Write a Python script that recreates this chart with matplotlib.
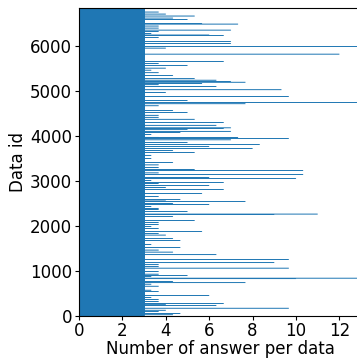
import matplotlib.pyplot as plt
import numpy as np

# number of data items and the usual number of answers each one got
n_data = 6850
base_answers = 3

# data ids that received more than the usual number of answers
extra_ids = [
    6760, 6715, 6671, 6626, 6596, 6500, 6492, 6448, 6403, 6358, 6329, 6284,
    6248, 6240, 6195, 6106, 6061, 5994, 5957, 5823, 5659, 5615, 5570, 5511,
    5466, 5406, 5347, 5273, 5243, 5213, 5198, 5169, 5139, 5102, 5027, 4968,
    4878, 4789, 4745, 4715, 4670, 4566, 4522, 4462, 4417, 4373, 4298, 4239,
    4179, 4165, 4150, 4105, 4075, 4031, 3971, 3965, 3941, 3912, 3852, 3808,
    3763, 3718, 3674, 3629, 3570, 3495, 3406, 3354, 3295, 3250, 3235, 3176,
    3146, 3071, 3057, 3012, 2967, 2937, 2893, 2848, 2804, 2714, 2655, 2581,
    2551, 2536, 2491, 2476, 2432, 2387, 2358, 2313, 2260, 2253, 2209, 2119,
    2075, 2030, 1986, 1941, 1867, 1822, 1792, 1718, 1666, 1577, 1517, 1458,
    1413, 1353, 1249, 1175, 1130, 1086, 1056, 982, 922, 892, 863, 833, 818,
    759, 729, 699, 654, 565, 535, 446, 402, 357, 312, 268, 238, 223, 164,
    119, 89, 45, 15,
]
extra_answers = [
    3.67, 4.0, 5.33, 4.33, 5.0, 5.67, 7.33, 3.67, 3.67, 7.0, 3.67, 3.33,
    6.0, 6.67, 3.67, 7.0, 7.0, 13.0, 4.0, 12.0, 6.67, 3.67, 5.0, 4.0,
    3.33, 3.67, 4.33, 5.33, 6.33, 7.0, 7.67, 5.67, 3.67, 6.33, 9.33, 4.0,
    9.67, 5.0, 13.0, 7.67, 3.67, 4.33, 5.0, 3.67, 3.67, 5.33, 6.67, 6.33,
    7.0, 6.67, 5.0, 7.0, 4.67, 3.33, 3.67, 7.33, 9.67, 7.0, 5.0, 8.33,
    6.0, 8.0, 4.33, 5.33, 3.33, 3.33, 4.33, 3.67, 3.67, 5.33, 10.33, 3.67,
    10.33, 6.0, 10.0, 3.33, 6.67, 3.67, 6.0, 4.0, 6.67, 5.67, 3.67, 4.67,
    4.0, 7.67, 4.33, 6.0, 3.33, 3.67, 3.67, 5.0, 11.0, 9.0, 4.33, 5.33,
    3.67, 3.67, 3.33, 3.67, 5.67, 3.67, 4.0, 4.33, 4.67, 3.33, 4.67, 3.67,
    4.33, 6.33, 9.67, 9.0, 3.67, 3.67, 9.67, 3.67, 3.67, 5.0, 3.33, 13.0, 10.0,
    4.33, 7.67, 3.33, 3.67, 3.33, 3.67, 6.0, 3.33, 3.67, 3.67, 6.67, 4.0, 6.33, 9.67,
    4.0, 3.67, 4.67, 4.33,
]

answers = np.full(n_data, base_answers, dtype=float)
answers[extra_ids] = extra_answers

plt.rcParams["font.size"] = 12
plt.rcParams["xtick.major.size"] = 3
plt.rcParams["ytick.major.size"] = 3
plt.rcParams["xtick.major.pad"] = 1.5
plt.rcParams["ytick.major.pad"] = 2

fig = plt.figure(figsize=(3.57, 3.58), dpi=100)
ax = fig.add_axes([0.2213, 0.1187, 0.79, 0.859])
# thin edges in the bar colour keep each one-row bar visible
ax.barh(np.arange(n_data), answers, height=1.0, color="#1f77b4",
        edgecolor="#1f77b4", linewidth=0.35, snap=False)
ax.set_xlim(0, 13)
ax.set_ylim(0, n_data)
ax.set_xticks([0, 2, 4, 6, 8, 10, 12])
ax.set_yticks([0, 1000, 2000, 3000, 4000, 5000, 6000])
ax.set_xlabel("Number of answer per data", labelpad=0)
ax.set_ylabel("Data id", labelpad=2)
fig.savefig("out.png", dpi=100)
